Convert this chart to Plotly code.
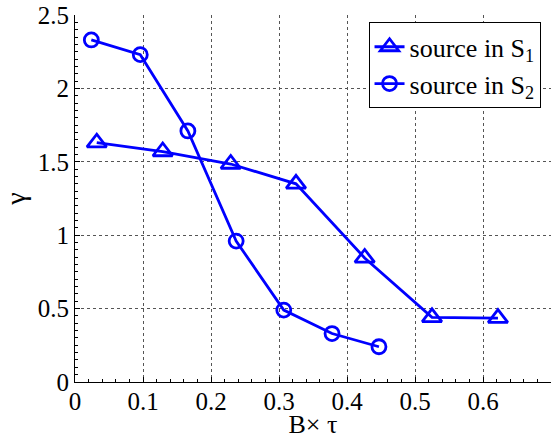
import plotly.graph_objects as go

s1_x = [0.032, 0.129, 0.229, 0.325, 0.426, 0.525, 0.622]
s1_y = [1.63, 1.57, 1.485, 1.35, 0.845, 0.44, 0.435]
s2_x = [0.024, 0.096, 0.166, 0.237, 0.307, 0.378, 0.447]
s2_y = [2.33, 2.23, 1.71, 0.96, 0.49, 0.33, 0.24]
x_ticks = [0, 0.1, 0.2, 0.3, 0.4, 0.5, 0.6]
y_ticks = [0, 0.5, 1, 1.5, 2, 2.5]

FONT = "Liberation Serif, Times New Roman, serif"
fig = go.Figure()
fig.add_trace(go.Scatter(x=s1_x, y=s1_y, mode="lines+markers", name="source in S<sub>1</sub>",
                         line=dict(color="#0000FF", width=2.8),
                         marker=dict(symbol="triangle-up-open", size=17, color="#0000FF", line=dict(width=2.8))))
fig.add_trace(go.Scatter(x=s2_x, y=s2_y, mode="lines+markers", name="source in S<sub>2</sub>",
                         line=dict(color="#0000FF", width=2.8),
                         marker=dict(symbol="circle-open", size=14, color="#0000FF", line=dict(width=2.8))))

fig.update_xaxes(range=[0, 0.7], tickmode="array", tickvals=x_ticks,
                 ticktext=[f"{v:g}" for v in x_ticks],
                 showline=True, linecolor="black", linewidth=1, ticks="inside", ticklen=5,
                 tickcolor="black", showgrid=True, gridcolor="#555", griddash="dot", gridwidth=1,
                 zeroline=False, tickfont=dict(family=FONT, size=25, color="black"),
                 ticklabelstandoff=-3,
                 minor=dict(ticks="inside", ticklen=3, tickcolor="black", showgrid=False, dtick=0.02),
                 title=dict(text="B× τ", font=dict(family=FONT, size=26, color="black"), standoff=0))
fig.update_yaxes(range=[0, 2.5], tickmode="array", tickvals=y_ticks,
                 ticktext=[f"{v:g}" for v in y_ticks],
                 showline=True, linecolor="black", linewidth=1, ticks="inside", ticklen=5,
                 tickcolor="black", showgrid=True, gridcolor="#555", griddash="dot", gridwidth=1,
                 zeroline=False, tickfont=dict(family=FONT, size=25, color="black"),
                 minor=dict(ticks="inside", ticklen=3, tickcolor="black", showgrid=False, dtick=0.05),
                 title=dict(text="γ", font=dict(family=FONT, size=28, color="black"), standoff=8))

fig.update_layout(width=552, height=439, margin=dict(l=75, r=1, t=15, b=57),
                  plot_bgcolor="white", paper_bgcolor="white",
                  font=dict(family=FONT, size=24, color="black"),
                  legend=dict(x=0.978, y=0.98, xanchor="right", yanchor="top",
                              bordercolor="black", borderwidth=1, bgcolor="white",
                              font=dict(family=FONT, size=26, color="black"),
                              tracegroupgap=0))
fig.write_html("out.html")
